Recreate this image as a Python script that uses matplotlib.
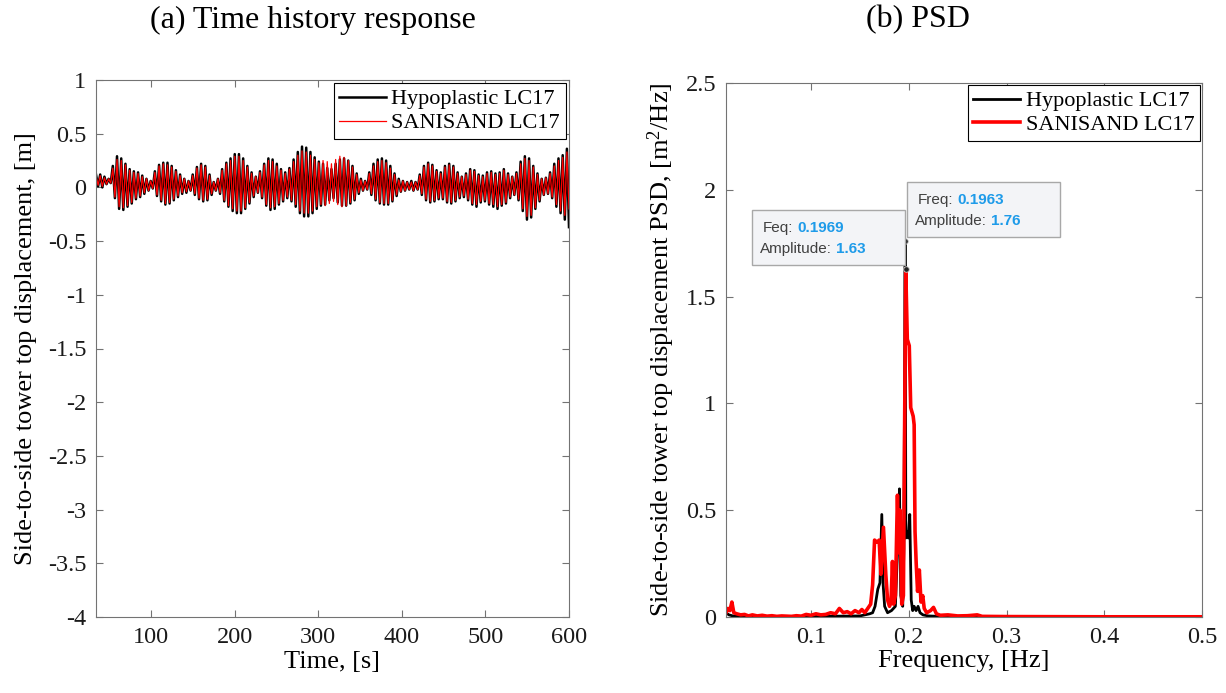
import numpy as np
import matplotlib
matplotlib.use('Agg')
import matplotlib.pyplot as plt
from matplotlib.ticker import FuncFormatter
from matplotlib.patches import Rectangle
from matplotlib.transforms import IdentityTransform

plt.rcParams['font.family'] = ['Liberation Serif', 'DejaVu Serif']
plt.rcParams['mathtext.fontset'] = 'custom'
plt.rcParams['mathtext.rm'] = 'Liberation Serif'
plt.rcParams['mathtext.it'] = 'Liberation Serif:italic'
plt.rcParams['axes.unicode_minus'] = False

# ---- (a) time history: peak / trough of each ~5 s cycle, 34..600 s ----
t_start, t_end = 34, 600
hypo_peak = [0.12, 0.12, 0.10, 0.08, 0.20, 0.29, 0.27, 0.22, 0.17, 0.15, 0.14, 0.11, 0.08,
             0.06, 0.15, 0.21, 0.23, 0.23, 0.20, 0.16, 0.12, 0.08, 0.06,
             0.12, 0.19, 0.22, 0.20, 0.12, 0.05, 0.08, 0.17, 0.23, 0.27,
             0.31, 0.31, 0.27, 0.20, 0.14, 0.10, 0.15, 0.22, 0.27, 0.26,
             0.22, 0.17, 0.14, 0.18, 0.26, 0.33, 0.38, 0.37, 0.33, 0.28,
             0.24, 0.22, 0.18, 0.17, 0.22, 0.26, 0.27, 0.25, 0.20, 0.13,
             0.08, 0.06, 0.14, 0.22, 0.26, 0.27, 0.25, 0.20, 0.13, 0.08,
             0.06, 0.05, 0.06, 0.05, 0.12, 0.20, 0.23, 0.21, 0.16, 0.14,
             0.20, 0.22, 0.20, 0.14, 0.10, 0.13, 0.17, 0.16, 0.12, 0.11,
             0.14, 0.15, 0.13, 0.14, 0.17, 0.13, 0.10, 0.14, 0.24, 0.29,
             0.27, 0.20, 0.13, 0.08, 0.09, 0.14, 0.22, 0.27, 0.30, 0.36]
hypo_trough = [0.01, 0.00, 0.03, 0.04, -0.10, -0.20, -0.21, -0.18, -0.15, -0.11, -0.09, -0.06, -0.03,
               -0.01, -0.08, -0.13, -0.16, -0.15, -0.12, -0.09, -0.06, -0.05, -0.03,
               -0.07, -0.11, -0.13, -0.12, -0.07, -0.03, -0.06, -0.13, -0.18, -0.22,
               -0.24, -0.24, -0.20, -0.15, -0.09, -0.05, -0.10, -0.17, -0.21, -0.20,
               -0.16, -0.13, -0.10, -0.13, -0.18, -0.24, -0.27, -0.27, -0.24, -0.20,
               -0.17, -0.16, -0.12, -0.10, -0.14, -0.17, -0.17, -0.15, -0.12, -0.06,
               -0.03, -0.02, -0.07, -0.12, -0.15, -0.16, -0.16, -0.13, -0.08, -0.04,
               -0.03, -0.02, -0.03, -0.02, -0.07, -0.12, -0.14, -0.13, -0.11, -0.11,
               -0.14, -0.15, -0.13, -0.10, -0.09, -0.12, -0.16, -0.18, -0.14, -0.13,
               -0.16, -0.18, -0.20, -0.17, -0.15, -0.10, -0.07, -0.12, -0.22, -0.30,
               -0.28, -0.20, -0.13, -0.07, -0.06, -0.10, -0.18, -0.24, -0.30, -0.37]
sani_peak = [0.11, 0.11, 0.09, 0.08, 0.18, 0.26, 0.25, 0.21, 0.16, 0.14, 0.13, 0.10, 0.08,
             0.06, 0.14, 0.20, 0.22, 0.21, 0.19, 0.15, 0.11, 0.08, 0.06,
             0.11, 0.18, 0.21, 0.19, 0.11, 0.05, 0.08, 0.16, 0.22, 0.25,
             0.29, 0.29, 0.25, 0.19, 0.13, 0.10, 0.14, 0.21, 0.25, 0.24,
             0.20, 0.16, 0.13, 0.17, 0.24, 0.30, 0.34, 0.33, 0.30, 0.26,
             0.23, 0.25, 0.24, 0.22, 0.26, 0.29, 0.28, 0.25, 0.19, 0.12,
             0.07, 0.06, 0.13, 0.20, 0.24, 0.25, 0.23, 0.18, 0.12, 0.07,
             0.06, 0.05, 0.05, 0.05, 0.11, 0.19, 0.22, 0.20, 0.15, 0.13,
             0.19, 0.21, 0.19, 0.13, 0.10, 0.12, 0.16, 0.15, 0.11, 0.10,
             0.13, 0.14, 0.12, 0.13, 0.16, 0.12, 0.10, 0.13, 0.22, 0.27,
             0.25, 0.19, 0.12, 0.08, 0.09, 0.13, 0.20, 0.25, 0.28, 0.33]
sani_trough = [0.02, 0.01, 0.03, 0.04, -0.09, -0.18, -0.19, -0.17, -0.14, -0.10, -0.08, -0.05, -0.03,
               -0.01, -0.07, -0.12, -0.15, -0.14, -0.11, -0.08, -0.05, -0.04, -0.03,
               -0.06, -0.10, -0.12, -0.11, -0.06, -0.03, -0.05, -0.12, -0.17, -0.20,
               -0.22, -0.22, -0.19, -0.14, -0.08, -0.05, -0.09, -0.16, -0.19, -0.18,
               -0.15, -0.12, -0.09, -0.12, -0.16, -0.22, -0.24, -0.24, -0.22, -0.18,
               -0.16, -0.17, -0.15, -0.13, -0.16, -0.18, -0.17, -0.14, -0.11, -0.05,
               -0.03, -0.02, -0.06, -0.11, -0.14, -0.15, -0.15, -0.12, -0.07, -0.04,
               -0.03, -0.02, -0.03, -0.02, -0.06, -0.11, -0.13, -0.12, -0.10, -0.10,
               -0.13, -0.14, -0.12, -0.09, -0.08, -0.11, -0.15, -0.16, -0.13, -0.12,
               -0.15, -0.16, -0.18, -0.16, -0.14, -0.09, -0.07, -0.11, -0.20, -0.27,
               -0.26, -0.19, -0.12, -0.07, -0.06, -0.09, -0.16, -0.22, -0.26, -0.20]

# ---- (b) PSD (Hz, m^2/Hz) ----
sani_f = [0.013, 0.015, 0.017, 0.019, 0.021, 0.024, 0.028, 0.032, 0.036, 0.040, 0.045, 0.050,
          0.055, 0.060, 0.065, 0.070, 0.075, 0.080, 0.085, 0.090, 0.095, 0.100, 0.105, 0.110,
          0.115, 0.120, 0.125, 0.129, 0.133, 0.137, 0.141, 0.145, 0.149, 0.152, 0.155, 0.158,
          0.161, 0.1630, 0.1650, 0.1675, 0.1697, 0.1714, 0.1741, 0.1765, 0.1783, 0.1803, 0.1818,
          0.1833, 0.1845, 0.1863, 0.1884, 0.1898, 0.1911, 0.1928, 0.1945, 0.1969, 0.1985,
          0.2005, 0.2020, 0.2045, 0.2055, 0.2064, 0.2076, 0.2090, 0.2108, 0.2125, 0.2143,
          0.2158, 0.2183, 0.2223, 0.2253, 0.2283, 0.2323, 0.240, 0.250, 0.260, 0.270, 0.275,
          0.300, 0.400, 0.500]
sani_psd = [0.02, 0.04, 0.03, 0.07, 0.02, 0.015, 0.01, 0.012, 0.005, 0.01, 0.005, 0.008,
            0.004, 0.006, 0.003, 0.005, 0.004, 0.003, 0.006, 0.004, 0.012, 0.008, 0.015, 0.01,
            0.012, 0.02, 0.015, 0.04, 0.02, 0.025, 0.015, 0.03, 0.02, 0.035, 0.02, 0.04,
            0.06, 0.15, 0.36, 0.35, 0.36, 0.20, 0.42, 0.20, 0.08, 0.05, 0.07,
            0.26, 0.06, 0.10, 0.57, 0.30, 0.50, 0.06, 0.10, 1.63, 1.30,
            1.27, 0.98, 0.94, 0.90, 0.40, 0.25, 0.12, 0.22, 0.07, 0.10,
            0.04, 0.02, 0.03, 0.045, 0.015, 0.008, 0.01, 0.005, 0.006, 0.01, 0.003,
            0.002, 0.001, 0.001]
hypo_f = [0.013, 0.016, 0.020, 0.030, 0.050, 0.080, 0.110, 0.130, 0.150, 0.155, 0.160, 0.163,
          0.1655, 0.1683, 0.1705, 0.1724, 0.1738, 0.1753, 0.1783, 0.1823, 0.1863, 0.1888,
          0.1905, 0.1918, 0.1938, 0.1950, 0.1963, 0.1970, 0.1982, 0.1995, 0.2010, 0.2025,
          0.2040, 0.2055, 0.2075, 0.2095, 0.2115, 0.2145, 0.2200, 0.2300, 0.2500, 0.3000, 0.5000]
hypo_psd = [0.02, 0.01, 0.005, 0.003, 0.003, 0.002, 0.003, 0.004, 0.005, 0.01, 0.015, 0.02,
            0.05, 0.13, 0.16, 0.48, 0.15, 0.05, 0.02, 0.03, 0.05, 0.35,
            0.60, 0.10, 0.05, 0.32, 1.76, 0.37, 0.40, 0.37, 0.48, 0.08,
            0.03, 0.05, 0.03, 0.05, 0.02, 0.01, 0.005, 0.003, 0.002, 0.001, 0.001]

tip_black = (0.1963, 1.76)
tip_red = (0.1969, 1.63)

fmt = FuncFormatter(lambda v, p: '%g' % round(v, 3))


def matlab_axes(ax):
    for s in ax.spines.values():
        s.set_color('0.45')
        s.set_linewidth(0.8)
    ax.tick_params(direction='in', top=True, right=True, length=5, width=0.8,
                   color='0.45', labelsize=17.5, pad=7, labelcolor='0.1')
    ax.xaxis.set_major_formatter(fmt)
    ax.yaxis.set_major_formatter(fmt)


fig = plt.figure(figsize=(12.26, 6.93), dpi=100)

# (a)
ax1 = fig.add_axes([96 / 1226, 1 - 617 / 693, 473 / 1226, 537 / 693])
t = np.linspace(t_start, t_end, 2 * len(hypo_peak))
hypo_x = np.column_stack([hypo_peak, hypo_trough]).ravel()
sani_x = np.column_stack([sani_peak, sani_trough]).ravel()
ax1.plot(t, hypo_x, color='black', lw=1.8, label='Hypoplastic LC17')
ax1.plot(t, sani_x, color='red', lw=0.9, label='SANISAND LC17')
ax1.set_xlim(t_start, t_end)
ax1.set_ylim(-4, 1)
ax1.set_xticks([100, 200, 300, 400, 500, 600])
ax1.set_yticks(np.arange(-4, 1.01, 0.5))
matlab_axes(ax1)
ax1.set_xlabel('Time, [s]', fontsize=19, labelpad=2)
ax1.set_ylabel('Side-to-side tower top displacement, [m]', fontsize=19, labelpad=8)
leg = ax1.legend(loc='upper right', fontsize=16, fancybox=False, framealpha=1,
                 edgecolor='black', borderaxespad=0.15, borderpad=0.25,
                 labelspacing=0.15, handlelength=2.1, handletextpad=0.25)
leg.get_frame().set_linewidth(0.8)

# (b)
ax2 = fig.add_axes([726 / 1226, 1 - 617 / 693, 476 / 1226, 534 / 693])
ax2.plot(hypo_f, hypo_psd, color='black', lw=2.0, label='Hypoplastic LC17')
ax2.plot(sani_f, sani_psd, color='red', lw=2.6, label='SANISAND LC17')
ax2.set_xlim(0.013, 0.5)
ax2.set_ylim(0, 2.5)
ax2.set_xticks([0.1, 0.2, 0.3, 0.4, 0.5])
ax2.set_yticks([0, 0.5, 1, 1.5, 2, 2.5])
matlab_axes(ax2)
ax2.set_xlabel('Frequency, [Hz]', fontsize=19, labelpad=2)
ax2.set_ylabel('Side-to-side tower top displacement PSD, [m$^2$/Hz]', fontsize=19, labelpad=6)
leg2 = ax2.legend(loc='upper right', fontsize=16, fancybox=False, framealpha=1,
                  edgecolor='black', borderaxespad=0.1, borderpad=0.25,
                  labelspacing=0.15, handlelength=2.1, handletextpad=0.25)
leg2.get_frame().set_linewidth(0.8)

ax2.plot([tip_red[0], tip_black[0]], [tip_red[1], tip_black[1]], 'o', ms=4,
         mfc='#222222', mec='#cccccc', mew=0.6, zorder=5)

fig.text(313 / 1226, 1 - 20 / 693, '(a) Time history response', fontsize=23,
         ha='center', va='center')
fig.text(918 / 1226, 1 - 20 / 693, '(b) PSD', fontsize=23, ha='center', va='center')

# data tips (MATLAB style), drawn in pixel coordinates next to the points
renderer = fig.canvas.get_renderer()
ident = IdentityTransform()


def datatip(point, lab1, val1, lab2, val2, dx, dy):
    px, py = ax2.transData.transform(point)
    x0, y0 = px + dx, py + dy
    fig.add_artist(Rectangle((x0, y0), 153, 55, transform=ident, fc='#f3f4f7',
                             ec='#a8a8a8', lw=1.0, zorder=6))
    for lab, val, xo, yo in [(lab1, val1, 11, 33), (lab2, val2, 8, 12)]:
        tl = fig.text(x0 + xo, y0 + yo, lab, transform=ident, fontsize=11,
                      family=['Liberation Sans', 'DejaVu Sans'], color='#404040',
                      va='baseline', ha='left', zorder=7)
        bb = tl.get_window_extent(renderer=renderer)
        fig.text(bb.x1 + 4, y0 + yo, val, transform=ident, fontsize=11,
                 family=['Liberation Sans', 'DejaVu Sans'], color='#1e9be9',
                 fontweight='bold', va='baseline', ha='left', zorder=7)


datatip(tip_red, 'Feq:', '%.4f' % tip_red[0], 'Amplitude:', '%.2f' % tip_red[1], -154, 4)
datatip(tip_black, 'Freq:', '%.4f' % tip_black[0], 'Amplitude:', '%.2f' % tip_black[1], 2, 4)

fig.savefig('out.png', dpi=100)
